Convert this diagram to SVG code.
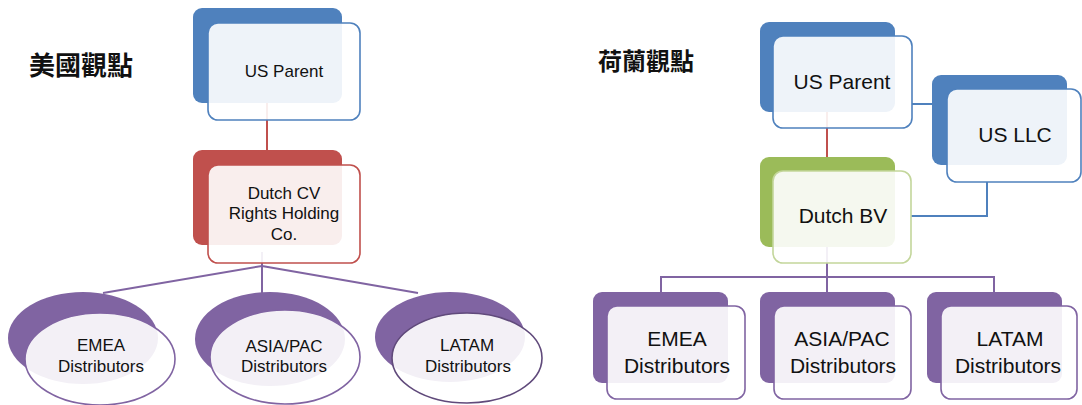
<svg xmlns="http://www.w3.org/2000/svg" width="1082" height="405" viewBox="0 0 1082 405">
<style>
  .t { font-family: "Liberation Sans", Arial, sans-serif; fill: #111; text-anchor: middle; }
  .s { font-size: 17px; }
  .l { font-size: 21px; }
  .title { font-family: "Noto Sans CJK TC", "Noto Sans CJK SC", sans-serif; font-weight: bold; fill: #111; }
  .front { fill: #ffffff; fill-opacity: 0.9; stroke-width: 1.6; }
  .blueB { fill: #4F81BD; }
  .blueF { stroke: #4F81BD; }
  .redB { fill: #C0504D; }
  .redF { stroke: #C0504D; }
  .greenB { fill: #9BBB59; }
  .greenF { stroke: #C3D69B; }
  .purB { fill: #8064A2; }
  .purF { stroke: #8064A2; }
  .conn { fill: none; stroke-width: 2; }
</style>
<rect width="1082" height="405" fill="#ffffff"/>

<text class="title" x="29" y="75" font-size="26">美國觀點</text>
<text class="title" x="598" y="70" font-size="24">荷蘭觀點</text>

<g id="connectors">
  <line class="conn" x1="267" y1="100" x2="267" y2="152" stroke="#C0504D"/>
  <path class="conn" d="M262,266 L103,293 M262,252 V293 M262,266 L418,293" stroke="#8064A2"/>
  <line class="conn" x1="827" y1="110" x2="827" y2="158" stroke="#C0504D"/>
  <path class="conn" d="M912,104 H934" stroke="#4F81BD"/>
  <path class="conn" d="M987,182 V216 H911" stroke="#4F81BD"/>
  <path class="conn" d="M827,245 V292 M661,292 V277 H994 V292" stroke="#8064A2"/>
</g>

<g id="us-parent-left">
  <rect class="blueB" x="193" y="8" width="149" height="95" rx="9"/>
  <rect class="front blueF" x="208" y="23" width="152" height="97" rx="10"/>
  <text class="t s" x="284" y="77">US Parent</text>
</g>

<g id="dutch-cv">
  <rect class="redB" x="193" y="150" width="149" height="95" rx="9"/>
  <rect class="front redF" x="208" y="165" width="152" height="98" rx="10"/>
  <text class="t s" x="284" y="199">Dutch CV</text>
  <text class="t s" x="284" y="219">Rights Holding</text>
  <text class="t s" x="284" y="240">Co.</text>
</g>

<g id="emea-left">
  <ellipse class="purB" cx="83" cy="338" rx="75" ry="46"/>
  <ellipse class="front purF" cx="100" cy="359" rx="75" ry="46"/>
  <text class="t s" x="101" y="351">EMEA</text>
  <text class="t s" x="101" y="372">Distributors</text>
</g>

<g id="asiapac-left">
  <ellipse class="purB" cx="270" cy="339" rx="75" ry="47"/>
  <ellipse class="front purF" cx="285" cy="357" rx="75" ry="47"/>
  <text class="t s" x="284" y="352">ASIA/PAC</text>
  <text class="t s" x="284" y="372">Distributors</text>
</g>

<g id="latam-left">
  <ellipse class="purB" cx="450" cy="337" rx="75" ry="45"/>
  <ellipse class="front" cx="467" cy="358" rx="75" ry="45" stroke="#604A7B" stroke-width="2"/>
  <text class="t s" x="467" y="351">LATAM</text>
  <text class="t s" x="468" y="372">Distributors</text>
</g>

<g id="us-parent-right">
  <rect class="blueB" x="760" y="22" width="135" height="90" rx="9"/>
  <rect class="front blueF" x="773" y="36" width="139" height="92" rx="10"/>
  <text class="t l" x="842" y="89">US Parent</text>
</g>

<g id="us-llc">
  <rect class="blueB" x="932" y="75" width="135" height="90" rx="9"/>
  <rect class="front blueF" x="947" y="89" width="134" height="93" rx="10"/>
  <text class="t l" x="1015" y="142">US LLC</text>
</g>

<g id="dutch-bv">
  <rect class="greenB" x="760" y="157" width="135" height="90" rx="9"/>
  <rect class="front greenF" x="773" y="171" width="138" height="92" rx="10"/>
  <text class="t l" x="843" y="223">Dutch BV</text>
</g>

<g id="emea-right">
  <rect class="purB" x="593" y="292" width="135" height="91" rx="9"/>
  <rect class="front purF" x="607" y="306" width="138" height="93" rx="10"/>
  <text class="t l" x="677" y="346">EMEA</text>
  <text class="t l" x="677" y="373">Distributors</text>
</g>

<g id="asiapac-right">
  <rect class="purB" x="760" y="292" width="135" height="91" rx="9"/>
  <rect class="front purF" x="774" y="306" width="137" height="93" rx="10"/>
  <text class="t l" x="842" y="346">ASIA/PAC</text>
  <text class="t l" x="843" y="373">Distributors</text>
</g>

<g id="latam-right">
  <rect class="purB" x="927" y="292" width="135" height="91" rx="9"/>
  <rect class="front purF" x="941" y="306" width="136" height="93" rx="10"/>
  <text class="t l" x="1010" y="346">LATAM</text>
  <text class="t l" x="1008" y="373">Distributors</text>
</g>
</svg>
